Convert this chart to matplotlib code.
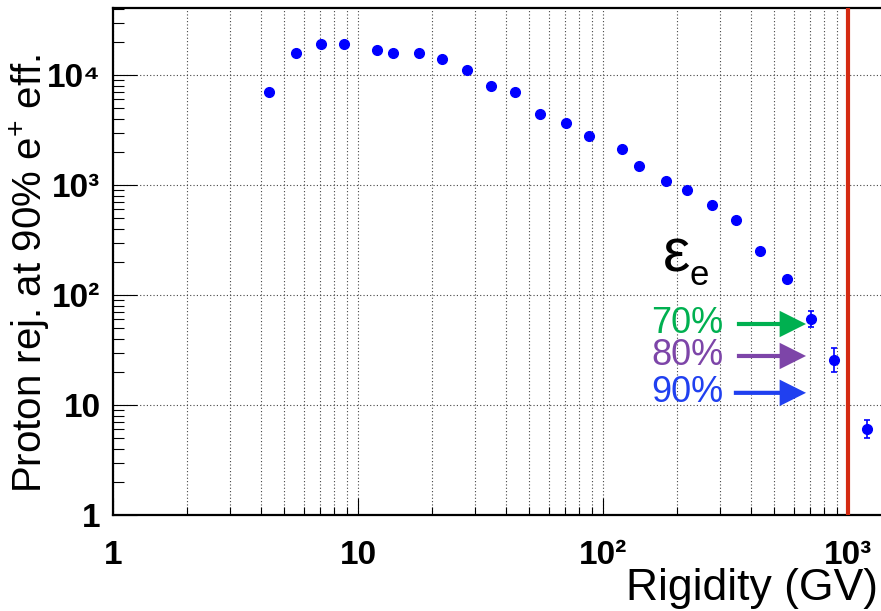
import numpy as np
import matplotlib
matplotlib.use('Agg')
import matplotlib.pyplot as plt
from matplotlib.ticker import LogLocator, NullFormatter, FixedLocator, FixedFormatter
from matplotlib.patches import FancyArrowPatch

plt.rcParams['font.family'] = ['Liberation Sans', 'DejaVu Sans']
plt.rcParams['mathtext.fontset'] = 'custom'
plt.rcParams['mathtext.rm'] = 'Liberation Sans'
plt.rcParams['mathtext.bf'] = 'Liberation Sans:bold'
plt.rcParams['mathtext.it'] = 'Liberation Sans:italic'

# proton rejection at 90% electron efficiency vs rigidity
rigidity = [4.35, 5.58, 7.06, 8.77, 12.0, 13.9, 17.8, 22.1, 27.8, 34.9, 43.9,
            55.3, 70.4, 87.7, 119.6, 140, 181, 220, 279, 349, 439, 562,
            707, 880, 1192]
rejection = [6960, 15950, 19100, 19100, 16900, 15950, 15950, 14070, 11040,
             8000, 6960, 4420, 3640, 2790, 2112, 1489, 1094, 901, 662, 481,
             251, 139, 60.5, 25.7, 6.0]
err_lo = [0] * 22 + [9.6, 5.9, 1.0]
err_hi = [0] * 22 + [11.6, 7.3, 1.26]

rigidity_cut = 1000

# efficiency markers: label, colour, arrow y, arrow start x
eff_labels = ['70%', '80%', '90%']
eff_colors = ['#00b050', '#7d45a8', '#2040f0']
eff_y = [54.5, 27.9, 12.9]
eff_x0 = [352, 352, 342]
eff_x1 = 674
eff_text_x = 309

xticks = [1, 10, 100, 1000]
xticklabels = ['1', '10', '10\u00b2', '10\u00b3']
yticks = [1, 10, 100, 1000, 10000]
yticklabels = ['1', '10', '10\u00b2', '10\u00b3', '10\u2074']

W, H = 881, 611
fig = plt.figure(figsize=(W / 100, H / 100), dpi=100)
ax = fig.add_axes([113 / W, 96 / H, 787 / W, 507 / H])
ax.set_xscale('log')
ax.set_yscale('log')
ax.set_xlim(1, 10 ** (787 / 245))
ax.set_ylim(1, 10 ** (507 / 110))

ax.xaxis.set_major_locator(FixedLocator(xticks))
ax.xaxis.set_major_formatter(FixedFormatter(xticklabels))
ax.yaxis.set_major_locator(FixedLocator(yticks))
ax.yaxis.set_major_formatter(FixedFormatter(yticklabels))
ax.xaxis.set_minor_locator(LogLocator(base=10, subs=np.arange(2, 10)))
ax.yaxis.set_minor_locator(LogLocator(base=10, subs=np.arange(2, 10)))
ax.xaxis.set_minor_formatter(NullFormatter())
ax.yaxis.set_minor_formatter(NullFormatter())

ax.tick_params(axis='x', which='major', direction='in', length=12, width=0.8,
               labelsize=24, pad=18)
ax.tick_params(axis='x', which='minor', direction='in', length=6, width=0.8)
ax.tick_params(axis='y', which='major', direction='in', length=17, width=0.8,
               labelsize=24, pad=9)
ax.tick_params(axis='y', which='minor', direction='in', length=8, width=0.8)
for lab in ax.get_xticklabels() + ax.get_yticklabels():
    lab.set_fontweight('bold')

for s in ax.spines.values():
    s.set_linewidth(1.6)

ax.grid(which='major', axis='both', ls=(0, (1, 2)), color='#444444', lw=0.8)
ax.grid(which='minor', axis='x', ls=(0, (1, 2)), color='#444444', lw=0.8)
ax.set_axisbelow(True)

ax.axvline(rigidity_cut, color='#d42a12', lw=3, zorder=3)

ax.errorbar(rigidity, rejection, yerr=[err_lo, err_hi], fmt='o', color='blue',
            ms=7, capsize=2.5, elinewidth=1.2, capthick=1.2, zorder=4)

# efficiency arrows and labels
for lab, col, y, x0 in zip(eff_labels, eff_colors, eff_y, eff_x0):
    ax.add_patch(FancyArrowPatch((x0, y), (eff_x1, y),
                                 arrowstyle='simple,head_length=19,head_width=19,tail_width=3',
                                 mutation_scale=1, color=col, lw=0,
                                 shrinkA=0, shrinkB=0, zorder=5))
    ax.text(eff_text_x, y, lab, color=col, fontsize=26, ha='right', va='center')

ax.text(176, 162, '\u03b5', fontsize=44, ha='left', va='baseline')
ax.text(226, 123, 'e', fontsize=25, ha='left', va='baseline')

fig.text(878 / W, 11 / H, 'Rigidity (GV)', fontsize=32, ha='right', va='baseline')
fig.text(30 / W, (H - 493) / H, r'Proton rej. at 90% e$^{+}$ eff.', fontsize=29,
         rotation=90, ha='center', va='bottom')

fig.savefig('out.png', dpi=100)
